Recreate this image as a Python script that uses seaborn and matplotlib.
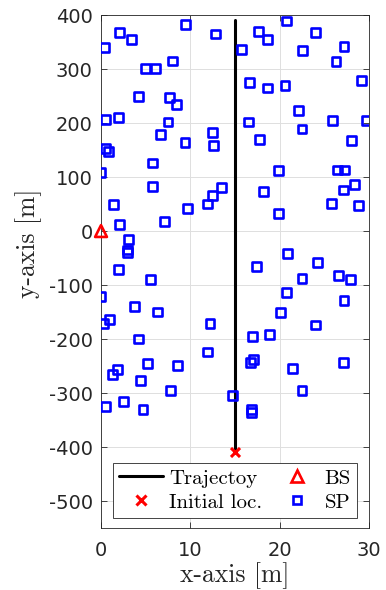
import matplotlib
matplotlib.use("Agg")
import matplotlib.pyplot as plt
from matplotlib.lines import Line2D
import seaborn as sns

# ---- data ----
sp_x = [9.5, 2.1, 3.4, 12.8, 0.4, 15.7, 5.0, 6.1, 8.0, 4.2, 7.7, 8.4, 0.5, 2.0, 7.5,
        6.7, 9.4, 12.5, 12.6, 0.5, 0.8, 5.8, 0.0, 5.8, 13.5,
        20.8, 17.6, 18.6, 24.0, 22.6, 27.2, 26.3, 16.6, 18.6, 20.6, 29.2, 22.1, 16.5,
        22.5, 25.9, 29.7, 17.7, 28.0, 19.9, 26.5, 27.3, 28.4, 27.1,
        12.5, 11.9, 1.4, 9.7, 2.1, 7.1, 3.1, 3.0, 3.0, 2.0, 5.5, 0.0, 3.7, 6.3, 0.9,
        0.3, 12.2, 4.2, 11.9,
        1.8, 1.3, 5.2, 8.6, 4.4, 7.8, 14.7, 0.5, 2.5, 4.7,
        18.2, 25.8, 28.8, 19.9, 20.9, 17.4, 24.2, 22.5, 26.6, 27.9, 20.8, 27.2, 20.1,
        24.0, 17.0, 18.9, 17.1, 16.7, 27.1,
        21.4, 22.5, 16.8, 16.8]
sp_y = [383, 367, 355, 365, 340, 336, 301, 301, 315, 249, 247, 235, 207, 210, 202,
        178, 164, 183, 159, 153, 148, 126, 109, 83, 81,
        389, 369, 355, 368, 335, 342, 314, 275, 265, 269, 278, 223, 202,
        189, 204, 205, 169, 167, 112, 113, 113, 87, 76,
        66, 50, 49, 42, 12, 17, -16, -35, -40, -72, -90, -122, -139, -150, -163,
        -172, -171, -200, -224,
        -257, -265, -245, -249, -276, -296, -305, -325, -316, -331,
        73, 51, 47, 33, -41, -65, -59, -88, -82, -89, -113, -128, -151,
        -174, -195, -191, -238, -244, -244,
        -254, -295, -331, -336]
bs_x = [0]
bs_y = [0]
traj_x = [15, 15]
traj_y = [-410, 390]
init_x = [15]
init_y = [-410]
x_ticks = [0, 10, 20, 30]
y_ticks = [-500, -400, -300, -200, -100, 0, 100, 200, 300, 400]
legend_labels = ["Trajectoy", "Initial loc.", "BS", "SP"]
x_label = "x-axis [m]"
y_label = "y-axis [m]"

sns.set_style("ticks")
plt.rcParams['font.family'] = ['DejaVu Sans']
plt.rcParams['axes.unicode_minus'] = False

fig = plt.figure(figsize=(3.86, 5.90), dpi=100)
ax = fig.add_axes([0.2617, 0.105, 0.6943, 0.8695])

axc = (0.15, 0.15, 0.15)
sq_ms, sq_mew = 6.4, 1.9
tri_ms, tri_mew = 8.5, 1.9
x_ms, x_mew = 6.5, 2.2

sns.lineplot(x=traj_x, y=traj_y, estimator=None, sort=False, color='black',
             linewidth=2.2, ax=ax, zorder=3)
sns.scatterplot(x=sp_x, y=sp_y, marker='s', s=sq_ms**2, facecolors='none',
                edgecolor=(0, 0, 1), linewidth=sq_mew, ax=ax, zorder=4)
sns.scatterplot(x=bs_x, y=bs_y, marker='^', s=tri_ms**2, facecolors='none',
                edgecolor=(1, 0, 0), linewidth=tri_mew, ax=ax, zorder=5, clip_on=False)
sns.scatterplot(x=init_x, y=init_y, marker='x', s=x_ms**2, color=(1, 0, 0),
                linewidth=x_mew, ax=ax, zorder=5, clip_on=False)

ax.set_xlim(0, 30)
ax.set_ylim(-550, 400)
ax.set_xticks(x_ticks)
ax.set_yticks(y_ticks)
ax.set_xticklabels([str(v) for v in x_ticks])
ax.set_yticklabels([str(v) for v in y_ticks])
ax.grid(True, color=(0.87, 0.87, 0.87), linewidth=0.7)
ax.set_axisbelow(True)
for sp in ax.spines.values():
    sp.set_visible(True)
    sp.set_color(axc)
    sp.set_linewidth(0.6)
ax.tick_params(axis='both', direction='in', length=4, width=0.6, color=axc,
               top=True, right=True, labelsize=14, labelcolor=axc)
ax.tick_params(axis='x', pad=9)
ax.tick_params(axis='y', pad=6)

ax.set_xlabel(x_label, family='cmr10', fontsize=18.5, color=axc, labelpad=2)
ax.set_ylabel(y_label, family='cmr10', fontsize=18.5, color=axc)
ax.yaxis.set_label_coords(-0.222, 0.555)

handles = [
    Line2D([], [], color='black', linewidth=2.2),
    Line2D([], [], linestyle='none', marker='x', color=(1, 0, 0), markersize=x_ms,
           markeredgewidth=x_mew),
    Line2D([], [], linestyle='none', marker='^', markerfacecolor='none', markeredgecolor=(1, 0, 0),
           markersize=tri_ms, markeredgewidth=tri_mew),
    Line2D([], [], linestyle='none', marker='s', markerfacecolor='none', markeredgecolor=(0, 0, 1),
           markersize=sq_ms, markeredgewidth=sq_mew),
]
leg = ax.legend(handles, legend_labels, ncol=2, loc='lower center',
                bbox_to_anchor=(0.500, 0.02), frameon=True, fancybox=False,
                prop={'family': 'cmr10', 'size': 15}, handlelength=2.1,
                handletextpad=0.3, columnspacing=0.6, labelspacing=0.25,
                borderpad=0.3, borderaxespad=0.0)
leg.get_frame().set_edgecolor(axc)
leg.get_frame().set_linewidth(0.6)
leg.get_frame().set_alpha(1)
for t in leg.get_texts():
    t.set_color('black')

fig.savefig('out.png', dpi=100)
